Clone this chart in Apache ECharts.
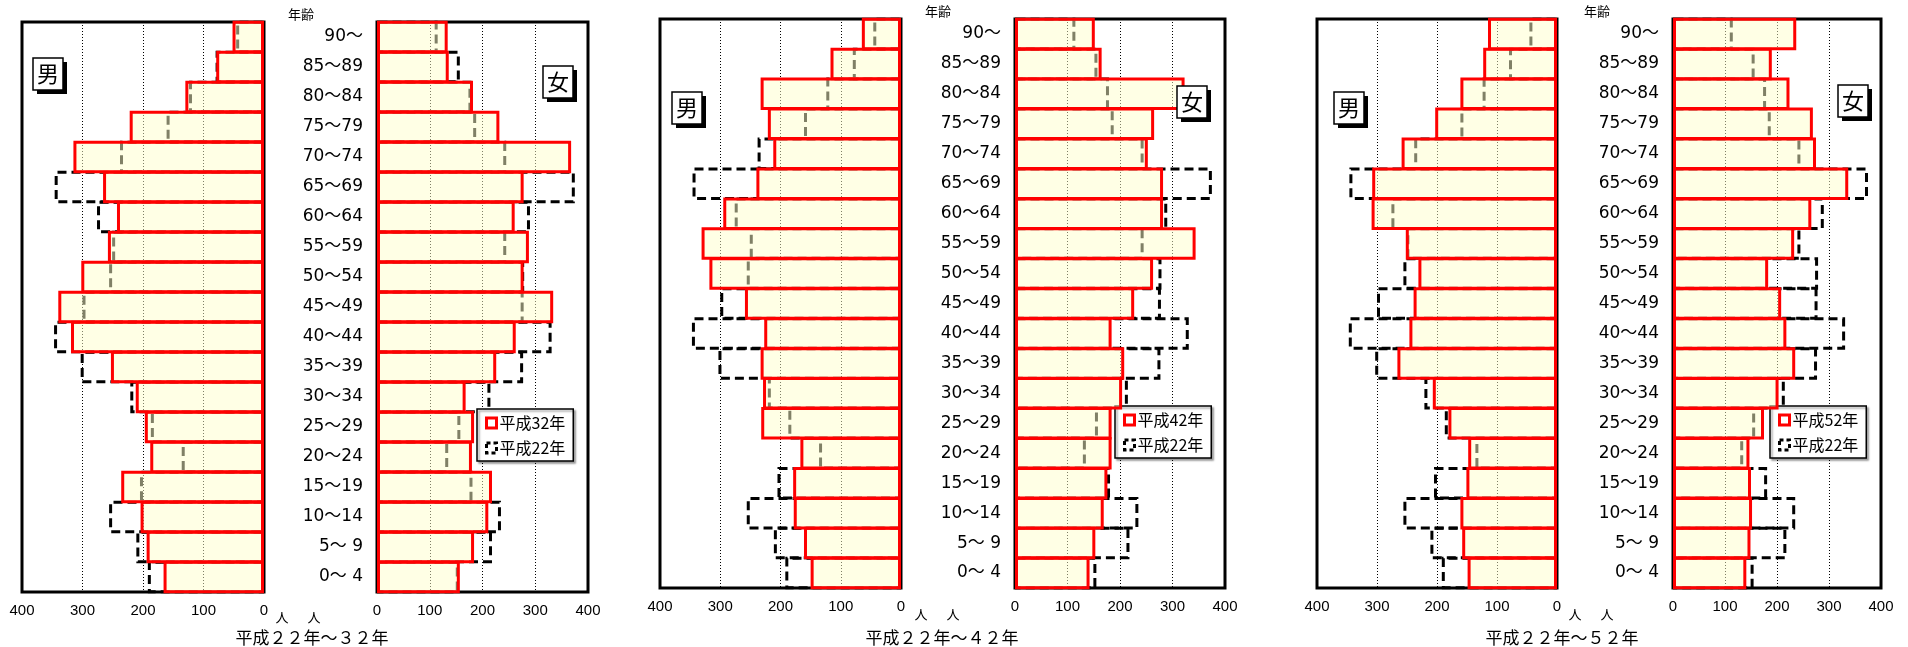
<!DOCTYPE html>
<html><head><meta charset="utf-8">
<script src="https://cdn.jsdelivr.net/npm/echarts@6/dist/echarts.min.js"></script>
<style>html,body{margin:0;padding:0;background:#fff}#c{width:1908px;height:647px}</style>
</head><body><div id="c"></div>
<script>
// Age groups, bottom to top
const ages = ['0～ 4','5～ 9','10～14','15～19','20～24','25～29','30～34','35～39','40～44','45～49','50～54','55～59','60～64','65～69','70～74','75～79','80～84','85～89','90～'];
const xTicks = [0,100,200,300,400];
// 平成22年 (base year)
const h22Male   = [192,211,256,205,136,187,221,303,347,300,256,251,276,346,238,161,124,80,46];
const h22Female = [155,218,235,181,135,158,215,277,331,278,279,245,290,375,245,188,179,157,115];
// 平成32年
const h32Male   = [166,194,204,236,188,197,212,253,319,340,302,258,243,266,315,222,130,79,52];
const h32Female = [157,184,211,218,180,184,168,226,263,334,278,288,261,278,368,232,182,136,134];
// 平成42年
const h42Male   = [150,161,178,179,167,232,229,233,227,259,318,331,295,240,212,221,233,117,65];
const h42Female = [142,153,169,176,184,184,204,208,184,227,263,344,282,282,253,265,323,165,152];
// 平成52年
const h52Male   = [149,158,161,151,148,181,207,266,246,239,231,252,309,308,259,203,161,123,115];
const h52Female = [141,149,152,150,147,175,203,235,218,208,183,233,266,337,275,269,224,190,237];
const futureNames = ['平成32年','平成42年','平成52年'];
const baseName = '平成22年';
const panelTitles = ['平成２２年～３２年','平成２２年～４２年','平成２２年～５２年'];
const futureMale = [h32Male,h42Male,h52Male];
const futureFemale = [h32Female,h42Female,h52Female];

// layout
const layout = [
  {m:{left:22,top:22,width:242,height:570}, f:{left:377,top:22,width:211,height:570},
   age:{x:301,y:14}, title:{x:312,y:638}, ren:[282,314], renY:617,
   boxM:{x:33,y:58}, boxF:{x:543,y:66}, legend:{left:477,top:409}},
  {m:{left:660,top:19,width:241,height:569}, f:{left:1015,top:19,width:210,height:569},
   age:{x:938,y:11}, title:{x:942,y:638}, ren:[921,953], renY:614,
   boxM:{x:672,y:92}, boxF:{x:1177,y:86}, legend:{left:1115,top:406}},
  {m:{left:1317,top:19,width:240,height:569}, f:{left:1673,top:19,width:208,height:569},
   age:{x:1597,y:11}, title:{x:1562,y:638}, ren:[1575,1607], renY:614,
   boxM:{x:1334,y:92}, boxF:{x:1838,y:85}, legend:{left:1770,top:406}}
];

const grids=[], xAxes=[], yAxes=[], series=[], legends=[], graphics=[];
const fFam = '"Noto Sans CJK JP", sans-serif';
const BAR_W = 32.5;

function addBox(x,y,ch){
  graphics.push({type:'rect', shape:{x:x+4,y:y+4,width:30,height:32}, style:{fill:'#000'}, z:10});
  graphics.push({type:'rect', shape:{x:x,y:y,width:30,height:32}, style:{fill:'#fff',stroke:'#000',lineWidth:1.5}, z:11});
  graphics.push({type:'text', x:x+15, y:y+16, style:{text:ch, font:'22px '+fFam, fill:'#000', align:'center', verticalAlign:'middle'}, z:12});
}
function txt(x,y,t,size){
  graphics.push({type:'text', x:x, y:y, style:{text:t, font:size+'px '+fFam, fill:'#000', align:'center', verticalAlign:'middle'}, z:12});
}

layout.forEach((L,p)=>{
  [L.m, L.f].forEach((g,s)=>{
    const idx = grids.length;
    grids.push(Object.assign({show:true, borderColor:'#000', borderWidth:3, backgroundColor:'#fff', z:0}, g));
    xAxes.push({type:'value', gridIndex:idx, min:0, max:400, interval:100, inverse: s===0,
      axisLine:{show:false}, axisTick:{show:false},
      axisLabel:{color:'#000', fontSize:15, fontFamily:'"Liberation Sans", Arial', margin:11, showMinLabel:true, showMaxLabel:true},
      splitLine:{show:true, lineStyle:{color:'#000', type:[1,2], width:1}}});
    yAxes.push({type:'category', gridIndex:idx, data:ages,
      axisLine:{show:false}, axisTick:{show:false}, splitLine:{show:false},
      axisLabel: s===1 ? {show:true, color:'#000', fontSize:17, fontFamily:'"DejaVu Sans", "Noto Sans CJK JP"', margin:14} : {show:false}});
    const base = s===0 ? h22Male : h22Female;
    const fut = s===0 ? futureMale[p] : futureFemale[p];
    series.push({type:'bar', name:baseName, xAxisIndex:idx, yAxisIndex:idx, data:base,
      barWidth:BAR_W, barGap:'-100%', clip:false, silent:true, z:3,
      itemStyle:{color:'rgba(0,0,0,0)', borderColor:'#000', borderWidth:3, borderType:[9,5]}});
    series.push({type:'bar', name:futureNames[p], xAxisIndex:idx, yAxisIndex:idx, data:fut,
      barWidth:BAR_W, barGap:'-100%', clip:false, silent:true, z:4,
      itemStyle:{color:'rgba(255,255,204,0.5)', borderColor:'#ff0000', borderWidth:3}});
  });
  legends.push({orient:'vertical', left:L.legend.left, top:L.legend.top, selectedMode:false,
    data:[{name:futureNames[p], icon:'rect', itemStyle:{color:'#fff', borderColor:'#ff0000', borderWidth:3}},
          {name:baseName, icon:'rect', itemStyle:{color:'#fff', borderColor:'#000', borderWidth:3, borderType:[4,3]}}],
    backgroundColor:'#fff', borderColor:'#000', borderWidth:1.5, padding:[6,8,5,8],
    itemWidth:10, itemHeight:10, itemGap:9,
    shadowColor:'rgba(0,0,0,0.35)', shadowOffsetX:2, shadowOffsetY:2, shadowBlur:2,
    textStyle:{color:'#000', fontSize:16, fontFamily:fFam, padding:[0,0,0,-2]}});
  addBox(L.boxM.x, L.boxM.y, '男');
  addBox(L.boxF.x, L.boxF.y, '女');
  txt(L.age.x, L.age.y, '年齢', 13);
  txt(L.title.x, L.title.y, panelTitles[p], 17);
  txt(L.ren[0], L.renY, '人', 13);
  txt(L.ren[1], L.renY, '人', 13);
});

const chart = echarts.init(document.getElementById('c'), null, {renderer:'canvas'});
chart.setOption({animation:false, grid:grids, xAxis:xAxes, yAxis:yAxes, series:series, legend:legends, graphic:graphics});
</script></body></html>
